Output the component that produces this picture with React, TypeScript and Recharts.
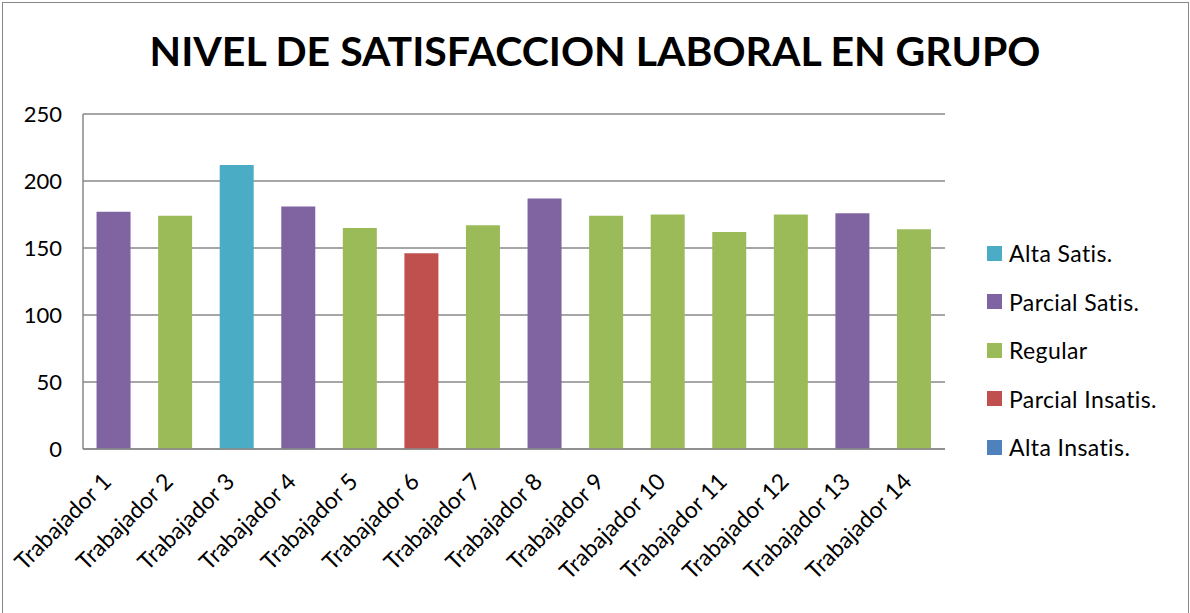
import { BarChart, Bar, XAxis, YAxis, CartesianGrid } from "recharts";

// categories and values
const workers = [
  "Trabajador 1", "Trabajador 2", "Trabajador 3", "Trabajador 4", "Trabajador 5",
  "Trabajador 6", "Trabajador 7", "Trabajador 8", "Trabajador 9", "Trabajador 10",
  "Trabajador 11", "Trabajador 12", "Trabajador 13", "Trabajador 14",
];
const scores = [177, 174, 212, 181, 165, 146, 167, 187, 174, 175, 162, 175, 176, 164];
// satisfaction level of each worker (index into levels)
const levelOf = [1, 2, 0, 1, 2, 3, 2, 1, 2, 2, 2, 2, 1, 2];
const levels = ["Alta Satis.", "Parcial Satis.", "Regular", "Parcial Insatis.", "Alta Insatis."];
const levelColors = ["#4BACC6", "#8064A2", "#9BBB59", "#C0504D", "#4F81BD"];
const yTicks = [0, 50, 100, 150, 200, 250];

const FONT = "Lato, 'Open Sans', sans-serif";

// one row per worker, score only under its own level's key
const data = workers.map((name, i) => {
  const row: Record<string, string | number | null> = { name };
  levels.forEach((lv, k) => {
    row[lv] = levelOf[i] === k ? scores[i] : null;
  });
  return row;
});

function AngledTick(props: any) {
  const { x, y, payload } = props;
  return (
    <g transform={`translate(${x - 1},${y + 26})`}>
      <text
        transform="rotate(-45)"
        textAnchor="end"
        fill="#000"
        fontSize={23}
        fontFamily={FONT}
      >
        {payload.value}
      </text>
    </g>
  );
}

// legend kept outside the chart so it doesn't shrink the plot area
function LegendBox() {
  return (
    <div
      style={{
        position: "absolute",
        left: 987,
        top: 229,
        fontFamily: FONT,
        fontSize: 23,
        letterSpacing: 0.4,
        color: "#000",
      }}
    >
      {levels.map((lv, k) => (
        <div key={lv} style={{ display: "flex", alignItems: "center", height: 48.5 }}>
          <span
            style={{
              display: "inline-block",
              width: 15,
              height: 15,
              background: levelColors[k],
              marginRight: 7,
            }}
          />
          {lv}
        </div>
      ))}
    </div>
  );
}

export default function App() {
  return (
    <div style={{ position: "relative", width: 1190, height: 613, background: "#fff", overflow: "hidden" }}>
      <style>{`body{margin:0}`}</style>
      <div
        style={{
          position: "absolute",
          left: 2,
          top: 2,
          width: 1187,
          height: 640,
          border: "1px solid #888",
          boxSizing: "border-box",
        }}
      />
      <div
        style={{
          position: "absolute",
          top: 26,
          left: 0,
          width: 1190,
          textAlign: "center",
          fontFamily: FONT,
          fontWeight: 700,
          fontSize: 41,
          color: "#000",
        }}
      >
        NIVEL DE SATISFACCION LABORAL EN GRUPO
      </div>
      <BarChart
        width={1190}
        height={613}
        data={data}
        margin={{ top: 114, right: 245, bottom: 0, left: 0 }}
        barCategoryGap="22%"
        style={{ position: "absolute", left: 0, top: 0 }}
      >
        <CartesianGrid vertical={false} stroke="#888" strokeWidth={1.5} />
        <XAxis
          dataKey="name"
          interval={0}
          height={164}
          tick={<AngledTick />}
          tickLine={false}
          axisLine={{ stroke: "#888", strokeWidth: 1.5 }}
        />
        <YAxis
          width={83}
          domain={[0, 250]}
          ticks={yTicks}
          tickLine={false}
          axisLine={{ stroke: "#888", strokeWidth: 1.5 }}
          tick={{ fill: "#000", fontSize: 22, fontFamily: FONT }}
          tickMargin={15}
        />
        {levels.map((lv, k) => (
          <Bar
            key={lv}
            dataKey={lv}
            stackId="a"
            fill={levelColors[k]}
            isAnimationActive={false}
          />
        ))}
      </BarChart>
      <LegendBox />
    </div>
  );
}
